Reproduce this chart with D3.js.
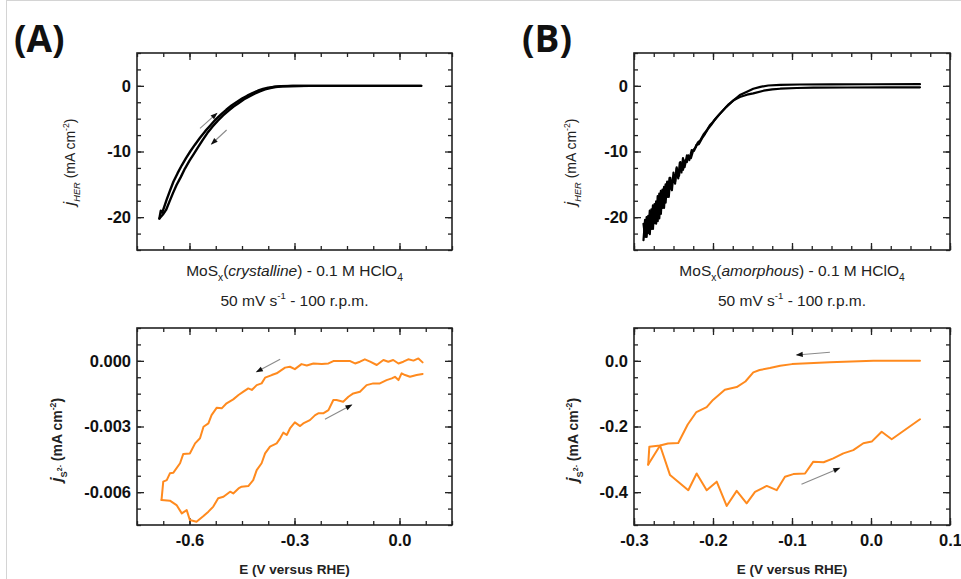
<!DOCTYPE html>
<html>
<head>
<meta charset="utf-8">
<script src="https://cdn.jsdelivr.net/npm/d3@7"></script>
<style>
  body { margin: 0; background: #fff; }
  svg text { font-family: "Liberation Sans", Arial, sans-serif; white-space: pre; }
</style>
</head>
<body>
<div id="chart"></div>
<script>
// ---- data ----
// (A) crystalline MoSx, HER current (mA cm-2)
const crysHerUpE = [-0.686, -0.682, -0.678, -0.672, -0.665, -0.656, -0.646, -0.634, -0.622, -0.610, -0.598, -0.585, -0.570, -0.555, -0.540, -0.525, -0.510, -0.495, -0.480, -0.465, -0.450, -0.435, -0.420, -0.405, -0.390, -0.375, -0.360, -0.340, -0.310, -0.270, 0.062];
const crysHerUpJ = [-20.2, -19.0, -19.3, -18.4, -17.3, -16.0, -14.6, -13.3, -12.1, -11.0, -10.0, -9.0, -7.9, -6.9, -6.0, -5.1, -4.35, -3.65, -3.0, -2.45, -1.95, -1.5, -1.1, -0.75, -0.48, -0.28, -0.15, -0.06, -0.02, 0, 0];
const crysHerDownE = [-0.686, -0.676, -0.667, -0.657, -0.647, -0.637, -0.625, -0.613, -0.600, -0.588, -0.575, -0.563, -0.549, -0.534, -0.519, -0.504, -0.489, -0.474, -0.459, -0.444, -0.429, -0.414, -0.399, -0.384, -0.369, -0.354, -0.334, -0.304, -0.255, 0.062];
const crysHerDownJ = [-20.2, -19.6, -18.9, -17.6, -16.3, -15.1, -13.9, -12.6, -11.4, -10.4, -9.3, -8.3, -7.2, -6.2, -5.3, -4.5, -3.8, -3.15, -2.6, -2.05, -1.6, -1.2, -0.85, -0.55, -0.33, -0.18, -0.08, -0.02, 0, 0];

// (A) crystalline MoSx, S2- current (mA cm-2)
const crysSDownE = [0.066, 0.054, 0.040, 0.025, 0.011, -0.003, -0.018, -0.032, -0.046, -0.065, -0.084, -0.099, -0.113, -0.127, -0.141, -0.161, -0.189, -0.203, -0.222, -0.246, -0.265, -0.280, -0.299, -0.313, -0.327, -0.351, -0.365, -0.384, -0.394, -0.408, -0.422, -0.432, -0.446, -0.460, -0.475, -0.494, -0.508, -0.522, -0.537, -0.546, -0.560, -0.570, -0.584, -0.599, -0.618, -0.627, -0.646, -0.656, -0.665, -0.675, -0.680];
const crysSDownJ = [-0.00007, 0.00011, 0.00001, 0.00007, -0.00004, -0.00012, 0.00004, -0.00004, 0.00004, -0.00019, -0.00004, 0.00007, -0.00004, -0.00012, -0.00001, -0.00001, -0.00001, -0.00012, -0.00015, -0.00012, -0.00021, -0.00015, -0.00038, -0.00027, -0.00031, -0.00057, -0.00065, -0.00077, -0.00103, -0.00111, -0.00133, -0.00126, -0.00141, -0.00156, -0.00176, -0.00194, -0.00217, -0.00214, -0.00248, -0.00286, -0.00301, -0.00354, -0.00377, -0.00423, -0.00426, -0.00468, -0.00511, -0.00514, -0.00545, -0.00552, -0.00636];
const crysSUpE = [-0.680, -0.656, -0.637, -0.622, -0.608, -0.599, -0.580, -0.560, -0.546, -0.532, -0.518, -0.503, -0.484, -0.475, -0.460, -0.451, -0.432, -0.418, -0.408, -0.394, -0.384, -0.370, -0.351, -0.341, -0.332, -0.322, -0.313, -0.299, -0.284, -0.275, -0.256, -0.241, -0.232, -0.218, -0.203, -0.189, -0.180, -0.161, -0.146, -0.132, -0.113, -0.094, -0.075, -0.056, -0.037, -0.022, -0.013, -0.003, 0.006, 0.016, 0.030, 0.049, 0.066];
const crysSUpJ = [-0.00636, -0.00639, -0.00659, -0.00697, -0.00682, -0.00727, -0.00735, -0.00709, -0.00689, -0.00666, -0.00628, -0.00621, -0.00598, -0.00606, -0.00583, -0.00575, -0.00572, -0.00545, -0.00499, -0.00468, -0.00423, -0.00392, -0.00377, -0.00354, -0.00328, -0.00339, -0.00309, -0.00281, -0.00298, -0.00286, -0.00271, -0.00248, -0.00240, -0.00240, -0.00225, -0.00179, -0.00179, -0.00187, -0.00164, -0.00149, -0.00141, -0.00111, -0.00103, -0.00103, -0.00088, -0.00080, -0.00073, -0.00088, -0.00057, -0.00065, -0.00073, -0.00065, -0.00060];

// (B) amorphous MoSx, HER current (mA cm-2)
const amorHerUpE = [-0.288, -0.286, -0.284, -0.282, -0.280, -0.278, -0.276, -0.274, -0.272, -0.270, -0.268, -0.266, -0.264, -0.262, -0.260, -0.258, -0.255, -0.253, -0.250, -0.248, -0.246, -0.243, -0.241, -0.238, -0.236, -0.233, -0.231, -0.228, -0.225, -0.222, -0.219, -0.216, -0.212, -0.208, -0.204, -0.200, -0.196, -0.191, -0.183, -0.174, -0.166, -0.157, -0.149, -0.140, -0.130, -0.115, -0.090, -0.050, 0.000, 0.062];
const amorHerUpJ = [-21.0, -23.0, -20.0, -22.4, -19.0, -21.8, -18.2, -20.9, -17.6, -20.6, -16.4, -19.5, -15.8, -18.6, -15.0, -16.9, -14.0, -15.7, -13.8, -14.6, -12.6, -13.7, -11.6, -12.8, -11.4, -11.6, -10.6, -11.0, -9.8, -9.4, -8.6, -8.3, -7.4, -6.8, -6.0, -5.5, -4.9, -4.2, -3.2, -2.2, -1.4, -0.9, -0.45, -0.15, 0.05, 0.15, 0.2, 0.23, 0.24, 0.25];
const amorHerDownE = [-0.288, -0.286, -0.284, -0.282, -0.280, -0.278, -0.276, -0.274, -0.272, -0.270, -0.268, -0.266, -0.264, -0.262, -0.260, -0.258, -0.256, -0.254, -0.252, -0.250, -0.248, -0.246, -0.244, -0.242, -0.240, -0.238, -0.236, -0.233, -0.230, -0.227, -0.224, -0.221, -0.218, -0.214, -0.210, -0.206, -0.202, -0.198, -0.193, -0.187, -0.181, -0.174, -0.166, -0.157, -0.149, -0.136, -0.125, -0.115, -0.094, -0.073, -0.030, 0.020, 0.062];
const amorHerDownJ = [-23.5, -20.4, -23.0, -19.8, -22.6, -18.8, -21.8, -18.0, -21.0, -16.8, -20.2, -16.0, -18.6, -15.4, -17.8, -14.6, -16.9, -14.0, -15.9, -13.2, -14.9, -12.4, -14.1, -11.7, -13.2, -11.0, -12.4, -10.6, -11.3, -9.8, -9.9, -9.0, -8.9, -8.0, -7.3, -6.5, -5.9, -5.2, -4.5, -3.7, -2.9, -2.2, -1.7, -1.35, -1.15, -0.74, -0.55, -0.44, -0.33, -0.28, -0.25, -0.23, -0.22];

// (B) amorphous MoSx, S2- current (mA cm-2)
const amorSDownE = [0.062, 0.003, -0.052, -0.100, -0.115, -0.128, -0.141, -0.149, -0.159, -0.170, -0.185, -0.200, -0.208, -0.221, -0.232, -0.244, -0.257, -0.267, -0.2806, -0.282];
const amorSDownJ = [0.000, 0.000, -0.004, -0.010, -0.015, -0.022, -0.028, -0.035, -0.063, -0.080, -0.088, -0.119, -0.141, -0.156, -0.194, -0.250, -0.252, -0.258, -0.262, -0.316];
const amorSUpE = [-0.282, -0.267, -0.2544, -0.2313, -0.2207, -0.208, -0.1953, -0.1827, -0.170, -0.1574, -0.1468, -0.132, -0.1194, -0.1089, -0.0983, -0.0835, -0.073, -0.060, -0.0477, -0.035, -0.0224, -0.0097, 0.0009, 0.0135, 0.0262, 0.062];
const amorSUpJ = [-0.316, -0.258, -0.348, -0.394, -0.343, -0.394, -0.368, -0.442, -0.396, -0.434, -0.399, -0.381, -0.394, -0.353, -0.345, -0.343, -0.307, -0.309, -0.297, -0.282, -0.272, -0.251, -0.246, -0.216, -0.239, -0.178];

// axes: domains and tick labels
const crysXDomain = [-0.75, 0.15];
const crysXTicks = [-0.6, -0.3, 0.0];
const crysXLabels = ["-0.6", "-0.3", "0.0"];
const amorXDomain = [-0.3, 0.1];
const amorXTicks = [-0.3, -0.2, -0.1, 0.0, 0.1];
const amorXLabels = ["-0.3", "-0.2", "-0.1", "0.0", "0.1"];
const herYDomain = [-25, 5];
const herYTicks = [0, -10, -20];
const herYLabels = ["0", "-10", "-20"];
const crysSYDomain = [-0.0075, 0.0015];
const crysSYTicks = [0, -0.003, -0.006];
const crysSYLabels = ["0.000", "-0.003", "-0.006"];
const amorSYDomain = [-0.5, 0.1];
const amorSYTicks = [0, -0.2, -0.4];
const amorSYLabels = ["0.0", "-0.2", "-0.4"];

// direction arrows, in data units [E0, j0, E1, j1]
const crysHerArrows = [[-0.570, -6.47, -0.522, -4.19], [-0.494, -6.73, -0.537, -8.86]];
const crysSArrows = [[-0.341, 0.00007, -0.408, -0.0005], [-0.213, -0.00267, -0.137, -0.00202]];
const amorSArrows = [[-0.052, 0.026, -0.094, 0.018], [-0.088, -0.376, -0.040, -0.327]];

const ORANGE = "#ff8a1e";

const svg = d3.select("#chart").append("svg")
  .attr("width", 961)
  .attr("height", 579);

// thin page border seen at top/left of the screenshot
svg.append("rect")
  .attr("x", 6.5).attr("y", 0.5)
  .attr("width", 1000).attr("height", 1000)
  .attr("fill", "none").attr("stroke", "#d4d4d4");

const zip = (xs, ys) => xs.map((v, i) => [v, ys[i]]);

function rich(sel, parts, size) {
  let prev = 0;
  parts.forEach(p => {
    let shift = 0, fs = size * (p.big || 1);
    if (p.s === "sub") { shift = 0.33; fs = size * 0.66; }
    if (p.s === "sup") { shift = -0.45; fs = size * 0.62; }
    if (p.s === "subsup") { shift = -0.02; fs = size * 0.5; }
    const ts = sel.append("tspan")
      .attr("dy", ((shift - prev) * size).toFixed(2))
      .attr("font-size", fs)
      .text(p.t);
    if (p.i) ts.attr("font-style", "italic");
    prev = shift;
  });
}

let clipId = 0;

function panel(cfg) {
  const x = d3.scaleLinear().domain(cfg.xDomain).range([cfg.left, cfg.right]);
  const y = d3.scaleLinear().domain(cfg.yDomain).range([cfg.bottom, cfg.top]);
  const g = svg.append("g");

  const id = "clip" + (clipId++);
  g.append("clipPath").attr("id", id).append("rect")
    .attr("x", cfg.left).attr("y", cfg.top)
    .attr("width", cfg.right - cfg.left).attr("height", cfg.bottom - cfg.top);

  const xMinor = d3.range(cfg.xDomain[0], cfg.xDomain[1] + 1e-9, cfg.xMinor);
  const yMinor = d3.range(cfg.yDomain[0], cfg.yDomain[1] + 1e-9, cfg.yMinor);

  const sides = [
    [() => d3.axisBottom(x), `translate(0,${cfg.bottom})`, xMinor, cfg.xTicks, cfg.xLabels],
    [() => d3.axisTop(x), `translate(0,${cfg.top})`, xMinor, cfg.xTicks, null],
    [() => d3.axisLeft(y), `translate(${cfg.left},0)`, yMinor, cfg.yTicks, cfg.yLabels],
    [() => d3.axisRight(y), `translate(${cfg.right},0)`, yMinor, cfg.yTicks, null]
  ];
  sides.forEach(([mk, tr, minor, major, labels], k) => {
    const isX = k < 2;
    g.append("g").attr("transform", tr)
      .call(mk().tickValues(minor).tickSize(-4).tickFormat(""))
      .call(s => s.select(".domain").remove())
      .selectAll("line").attr("stroke", "#222").attr("stroke-width", 1.3);
    const showLabels = labels && !(isX && cfg.hideX);
    const ga = g.append("g").attr("transform", tr)
      .call(mk().tickValues(major).tickSize(-7).tickPadding(isX ? 9 : 6)
        .tickFormat(showLabels ? (d, i) => labels[i] : ""))
      .call(s => s.select(".domain").remove());
    ga.selectAll("line").attr("stroke", "#222").attr("stroke-width", 1.3);
    ga.selectAll("text")
      .attr("font-size", 16.5).attr("font-weight", "bold").attr("fill", "#111");
  });

  const line = d3.line().x(d => x(d[0])).y(d => y(d[1]));
  const data = g.append("g").attr("clip-path", `url(#${id})`);
  cfg.series.forEach(s => {
    data.append("path")
      .attr("d", line(s))
      .attr("fill", "none")
      .attr("stroke", cfg.color)
      .attr("stroke-width", cfg.width)
      .attr("stroke-linejoin", "round")
      .attr("stroke-linecap", "round");
  });

  (cfg.arrows || []).forEach(a => {
    const x0 = x(a[0]), y0 = y(a[1]), x1 = x(a[2]), y1 = y(a[3]);
    const ang = Math.atan2(y1 - y0, x1 - x0);
    g.append("line")
      .attr("x1", x0).attr("y1", y0).attr("x2", x1).attr("y2", y1)
      .attr("stroke", "#8a8a8a").attr("stroke-width", 1.1);
    const L = 6, Wd = 2.6;
    const p = [
      [x1 + Math.cos(ang) * 1, y1 + Math.sin(ang) * 1],
      [x1 - Math.cos(ang) * L - Math.sin(ang) * Wd, y1 - Math.sin(ang) * L + Math.cos(ang) * Wd],
      [x1 - Math.cos(ang) * L + Math.sin(ang) * Wd, y1 - Math.sin(ang) * L - Math.cos(ang) * Wd]
    ];
    g.append("path").attr("d", "M" + p.join("L") + "Z").attr("fill", "#111");
  });

  g.append("rect")
    .attr("x", cfg.left).attr("y", cfg.top)
    .attr("width", cfg.right - cfg.left).attr("height", cfg.bottom - cfg.top)
    .attr("fill", "none").attr("stroke", "#222").attr("stroke-width", 1.6);

  const yt = g.append("text")
    .attr("transform", `translate(${cfg.yTitleX},${cfg.yTitleY}) rotate(-90)`)
    .attr("text-anchor", "middle")
    .attr("font-weight", cfg.yTitleBold ? "bold" : "normal")
    .attr("fill", "#222");
  rich(yt, cfg.yTitle, 14);
}

const herTitle = [{ t: "j", i: 1, big: 1.2 }, { t: "HER", i: 1, s: "sub" }, { t: " (mA cm" }, { t: "-2", s: "sup" }, { t: ")" }];
const sTitle = [{ t: "j", i: 1, big: 1.2 }, { t: "S", s: "sub" }, { t: "2-", s: "subsup" }, { t: " (mA cm" }, { t: "-2", s: "sup" }, { t: ")" }];

panel({
  left: 137, right: 452, top: 53, bottom: 250,
  xDomain: crysXDomain, xMinor: 0.075, xTicks: crysXTicks, xLabels: crysXLabels, hideX: true,
  yDomain: herYDomain, yMinor: 2.5, yTicks: herYTicks, yLabels: herYLabels,
  series: [zip(crysHerUpE, crysHerUpJ), zip(crysHerDownE, crysHerDownJ)],
  color: "#000", width: 2.4, arrows: crysHerArrows,
  yTitle: herTitle, yTitleX: 75, yTitleY: 162
});
panel({
  left: 137, right: 452, top: 328, bottom: 525,
  xDomain: crysXDomain, xMinor: 0.075, xTicks: crysXTicks, xLabels: crysXLabels,
  yDomain: crysSYDomain, yMinor: 0.00075, yTicks: crysSYTicks, yLabels: crysSYLabels,
  series: [zip(crysSDownE, crysSDownJ), zip(crysSUpE, crysSUpJ)],
  color: ORANGE, width: 2, arrows: crysSArrows,
  yTitle: sTitle, yTitleX: 62, yTitleY: 440, yTitleBold: true
});
panel({
  left: 634, right: 950, top: 53, bottom: 250,
  xDomain: amorXDomain, xMinor: 0.025, xTicks: amorXTicks, xLabels: amorXLabels, hideX: true,
  yDomain: herYDomain, yMinor: 2.5, yTicks: herYTicks, yLabels: herYLabels,
  series: [zip(amorHerUpE, amorHerUpJ), zip(amorHerDownE, amorHerDownJ)],
  color: "#000", width: 2.2,
  yTitle: herTitle, yTitleX: 576, yTitleY: 162
});
panel({
  left: 634, right: 950, top: 328, bottom: 525,
  xDomain: amorXDomain, xMinor: 0.025, xTicks: amorXTicks, xLabels: amorXLabels,
  yDomain: amorSYDomain, yMinor: 0.05, yTicks: amorSYTicks, yLabels: amorSYLabels,
  series: [zip(amorSDownE, amorSDownJ), zip(amorSUpE, amorSUpJ)],
  color: ORANGE, width: 2, arrows: amorSArrows,
  yTitle: sTitle, yTitleX: 578, yTitleY: 440, yTitleBold: true
});

// panel letters
[["(A)", 14], ["(B)", 522]].forEach(([t, px]) => {
  svg.append("text").attr("x", px).attr("y", 52)
    .style("font-family", "'Open Sans', 'Liberation Sans', sans-serif")
    .attr("font-weight", "bold").attr("font-size", 37).attr("fill", "#111")
    .text(t);
});

// captions under the top panels
[[294.5, "crystalline"], [792, "amorphous"]].forEach(([cx, phase]) => {
  const t1 = svg.append("text").attr("x", cx).attr("y", 276).attr("text-anchor", "middle").attr("fill", "#222");
  rich(t1, [{ t: "MoS" }, { t: "x", s: "sub" }, { t: "(" }, { t: phase, i: 1 }, { t: ") - 0.1 M HClO" }, { t: "4", s: "sub" }], 15.5);
  const t2 = svg.append("text").attr("x", cx).attr("y", 306).attr("text-anchor", "middle").attr("fill", "#222");
  rich(t2, [{ t: "50 mV s" }, { t: "-1", s: "sup" }, { t: " - 100 r.p.m." }], 15.5);
  svg.append("text").attr("x", cx).attr("y", 574).attr("text-anchor", "middle")
    .attr("font-weight", "bold").attr("font-size", 13.5).attr("fill", "#222")
    .text("E (V versus RHE)");
});
</script>
</body>
</html>
